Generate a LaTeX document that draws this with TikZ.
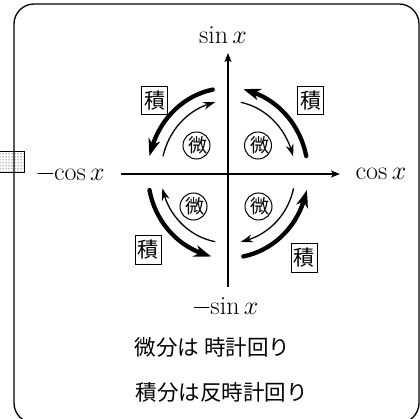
\RequirePackage{fix-cm}
\documentclass[tikz,border=0pt]{standalone}
\usepackage{fontspec}
\newfontfamily\jp{Noto Sans CJK JP}
\usetikzlibrary{arrows.meta,bending,patterns}
\begin{document}
\begin{tikzpicture}[x=1pt,y=1pt,
  thickarc/.style={line width=4.3pt, line cap=round, -{Stealth[length=17pt,width=12pt,inset=5pt,bend]}},
  thinarc/.style={line width=1.3pt, -{Stealth[length=12pt,width=8pt,inset=4pt,bend]}},
  axisline/.style={line width=1.3pt, -{Stealth[length=9pt,width=7pt,inset=2pt]}},
  seki/.style={draw, line width=1pt, inner sep=0pt, minimum width=26pt, minimum height=28pt, font=\jp\fontsize{21}{21}\selectfont},
  bi/.style={circle, draw, line width=1pt, inner sep=0pt, minimum size=27pt},
  bichar/.style={font=\jp\fontsize{19}{19}\selectfont, inner sep=0pt},
  mlabel/.style={font=\fontsize{26}{30}\selectfont, inner sep=0pt},
  jtext/.style={font=\jp\fontsize{21.5}{24}\selectfont, inner sep=0pt}]
\useasboundingbox (0,0) rectangle (420,418);
\draw[line width=1.3pt, rounded corners=20pt] (14,-5) rectangle (419,414);
\node[draw, line width=1pt, pattern=dots, minimum width=26pt, minimum height=21pt, inner sep=0pt] (sq) at (11,256) {};
% axes
\coordinate (O) at (228,244);
\coordinate (L) at (121,244);
\coordinate (R) at (340,244);
\coordinate (T) at (228,365);
\coordinate (B) at (228,131);
\draw[axisline] (L) -- (R);
\draw[axisline] (B) -- (T);
\node[mlabel] (sinx) at (223,383) {$\sin x$};
\node[mlabel] (msinx) at (225,111) {$-\mkern-4mu\sin x$};
\node[mlabel] (cosx) at (381,244) {$\cos x$};
\node[mlabel] (mcosx) at (70,244) {$-\mkern-4mu\cos x$};
% integration (counterclockwise, thick)
\draw[thickarc] ([shift={(101:80 and 86)}]O) arc[start angle=101,end angle=168,x radius=80,y radius=86];
\draw[thickarc] ([shift={(12:80 and 86)}]O) arc[start angle=12,end angle=79,x radius=80,y radius=86];
\draw[thickarc] ([shift={(191:80 and 84)}]O) arc[start angle=191,end angle=258,x radius=80,y radius=84];
\draw[thickarc] ([shift={(281:80 and 84)}]O) arc[start angle=281,end angle=349,x radius=80,y radius=84];
% differentiation (clockwise, thin)
\draw[thinarc] ([shift={(166:67 and 73)}]O) arc[start angle=166,end angle=101,x radius=67,y radius=73];
\draw[thinarc] ([shift={(79:67 and 73)}]O) arc[start angle=79,end angle=14,x radius=67,y radius=73];
\draw[thinarc] ([shift={(259:67 and 69)}]O) arc[start angle=259,end angle=192,x radius=67,y radius=69];
\draw[thinarc] ([shift={(348:67 and 69)}]O) arc[start angle=348,end angle=281,x radius=67,y radius=69];
% labels
\node[seki] (s1) at (154.5,317) {積};
\node[seki] (s2) at (310.5,317) {積};
\node[seki] (s3) at (148,168) {積};
\node[seki] (s4) at (304,160) {積};
\node[bi] (b1) at (196.5,272.5) {};
\node[bi] (b2) at (258,272.5) {};
\node[bi] (b3) at (193.5,211.5) {};
\node[bi] (b4) at (258.5,211.5) {};
\node[bichar] (c1) at ([xshift=1.5pt]b1) {微};
\node[bichar] (c2) at ([xshift=1.5pt]b2) {微};
\node[bichar] (c3) at ([xshift=1.5pt]b3) {微};
\node[bichar] (c4) at ([xshift=1.5pt]b4) {微};
\node[jtext] (t1) at (212.5,71) {微分は 時計回り};
\node[jtext] (t2) at (221.5,26) {積分は反時計回り};
\end{tikzpicture}
\end{document}
